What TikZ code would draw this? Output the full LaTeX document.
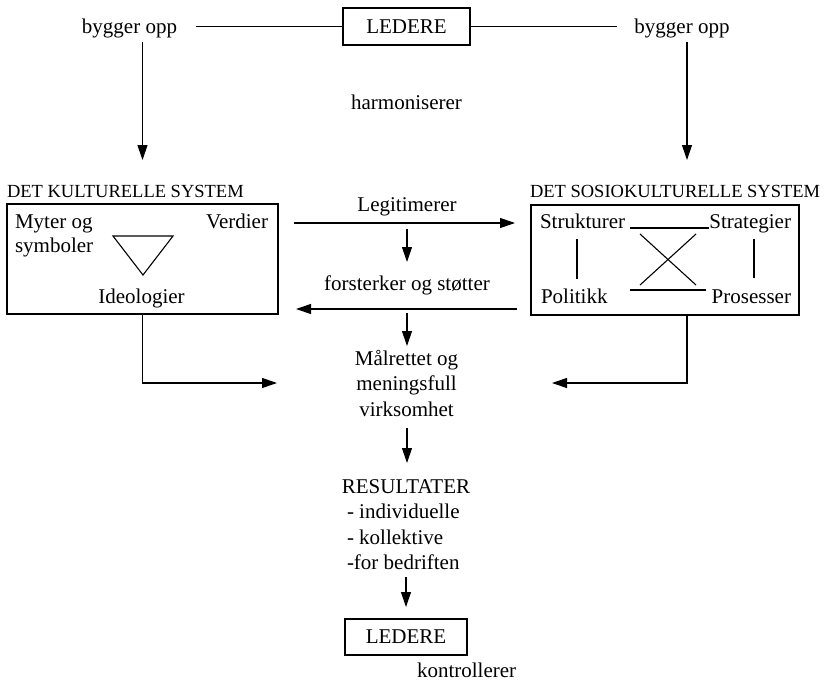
\documentclass[tikz,border=0pt]{standalone}
\usepackage{fontspec}
\setmainfont{Liberation Serif}
\usetikzlibrary{arrows.meta}
\begin{document}
\begin{tikzpicture}[x=1pt,y=-1pt,
  every node/.style={inner sep=0pt, outer sep=0pt, font=\fontsize{21}{25}\selectfont},
  txt/.style={anchor=base},
  txtw/.style={anchor=base west},
  txte/.style={anchor=base east},
  hdr/.style={anchor=base west, font=\fontsize{18.5}{22}\selectfont},
  boxnode/.style={draw, line width=1.1pt},
  ln/.style={line width=1.1pt},
  arr/.style={line width=1.1pt, -{Triangle[length=15pt,width=10pt]}}]
\useasboundingbox (0,0) rectangle (824,683);

% top
\node[boxnode, minimum width=127pt, minimum height=37pt] (ledTop) at (406.5,26.5) {LEDERE};
\node[txt] (bygL) at (129.5,33) {bygger opp};
\node[txt] (bygR) at (682,33) {bygger opp};
\node[txt] (harm) at (406.5,109) {harmoniserer};

\draw[ln] ([xshift=19pt]bygL.east |- ledTop.west) -- (ledTop.west);
\draw[ln] (ledTop.east) -- ([xshift=-17pt]bygR.west |- ledTop.east);

\coordinate (tipL) at (142.5,160);
\coordinate (tipR) at (687,160);
\draw[arr] ([yshift=-4pt]bygL.south -| tipL) -- (tipL);
\draw[arr] ([yshift=-4pt]bygR.south -| tipR) -- (tipR);

% left system
\node[hdr] (kulHdr) at (7,197) {DET KULTURELLE SYSTEM};
\node[boxnode, minimum width=271pt, minimum height=110pt] (kulBox) at (142.5,259) {};
\node[txtw] (myter) at (15,228) {Myter og};
\node[txtw] (symb) at (15,252) {symboler};
\node[txte] (verd) at (268,228) {Verdier};
\node[txt] (ideo) at (141.5,303) {Ideologier};
\draw[ln, line join=miter] (113,236) -- (173,236) -- (143,275) -- cycle;

% right system
\node[hdr] (sosHdr) at (530,197) {DET SOSIOKULTURELLE SYSTEM};
\node[boxnode, minimum width=268pt, minimum height=110pt] (sosBox) at (665,260) {};
\node[txtw] (struk) at (540,228) {Strukturer};
\node[txte] (strat) at (791,228) {Strategier};
\node[txtw] (polit) at (541,303) {Politikk};
\node[txte] (pros) at (791,303) {Prosesser};
\draw[ln] ([xshift=5pt]struk.base east) -- (strat.base west);
\draw[ln] (630,290) -- (706,290);
\draw[ln] (640,234) -- (696,285);
\draw[ln] (696,234) -- (640,285);
\draw[ln] (577,239) -- (577,279);
\draw[ln] (754,239) -- (754,278);

% middle
\coordinate (aR) at (0,223);
\coordinate (aL) at (0,309);
\node[txt] (legit) at (407,211) {Legitimerer};
\node[txt] (forst) at (407,290) {forsterker og støtter};
\draw[arr] ([xshift=16pt]kulBox.east |- aR) -- ([xshift=-16pt]sosBox.west |- aR);
\draw[arr] ([xshift=-14pt]sosBox.west |- aL) -- ([xshift=18pt]kulBox.east |- aL);
\draw[arr] (407,229) -- (407,262);
\draw[arr] (407,313) -- (407,346);

\node[txt] (mal1) at (406.5,365) {Målrettet og};
\node[txt] (mal2) at (406.5,390.5) {meningsfull};
\node[txt] (mal3) at (406.5,416) {virksomhet};

\coordinate (tipML) at (277,383);
\coordinate (tipMR) at (552,383);
\draw[arr] (kulBox.south) -- (kulBox.south |- tipML) -- (tipML);
\draw[arr] (sosBox.south -| tipR) -- (tipR |- tipMR) -- (tipMR);

\draw[arr] (407,428) -- (407,463);

\node[txt] (res) at (406,493) {RESULTATER};
\node[txtw] (res1) at (347,518.5) {- individuelle};
\node[txtw] (res2) at (347,544) {- kollektive};
\node[txtw] (res3) at (347,569) {-for bedriften};

\draw[arr] (406,577) -- (406,607);

\node[boxnode, minimum width=122pt, minimum height=36pt] (ledBot) at (406,637) {LEDERE};
\node[txtw] (kontr) at (417,677) {kontrollerer};
\end{tikzpicture}
\end{document}
